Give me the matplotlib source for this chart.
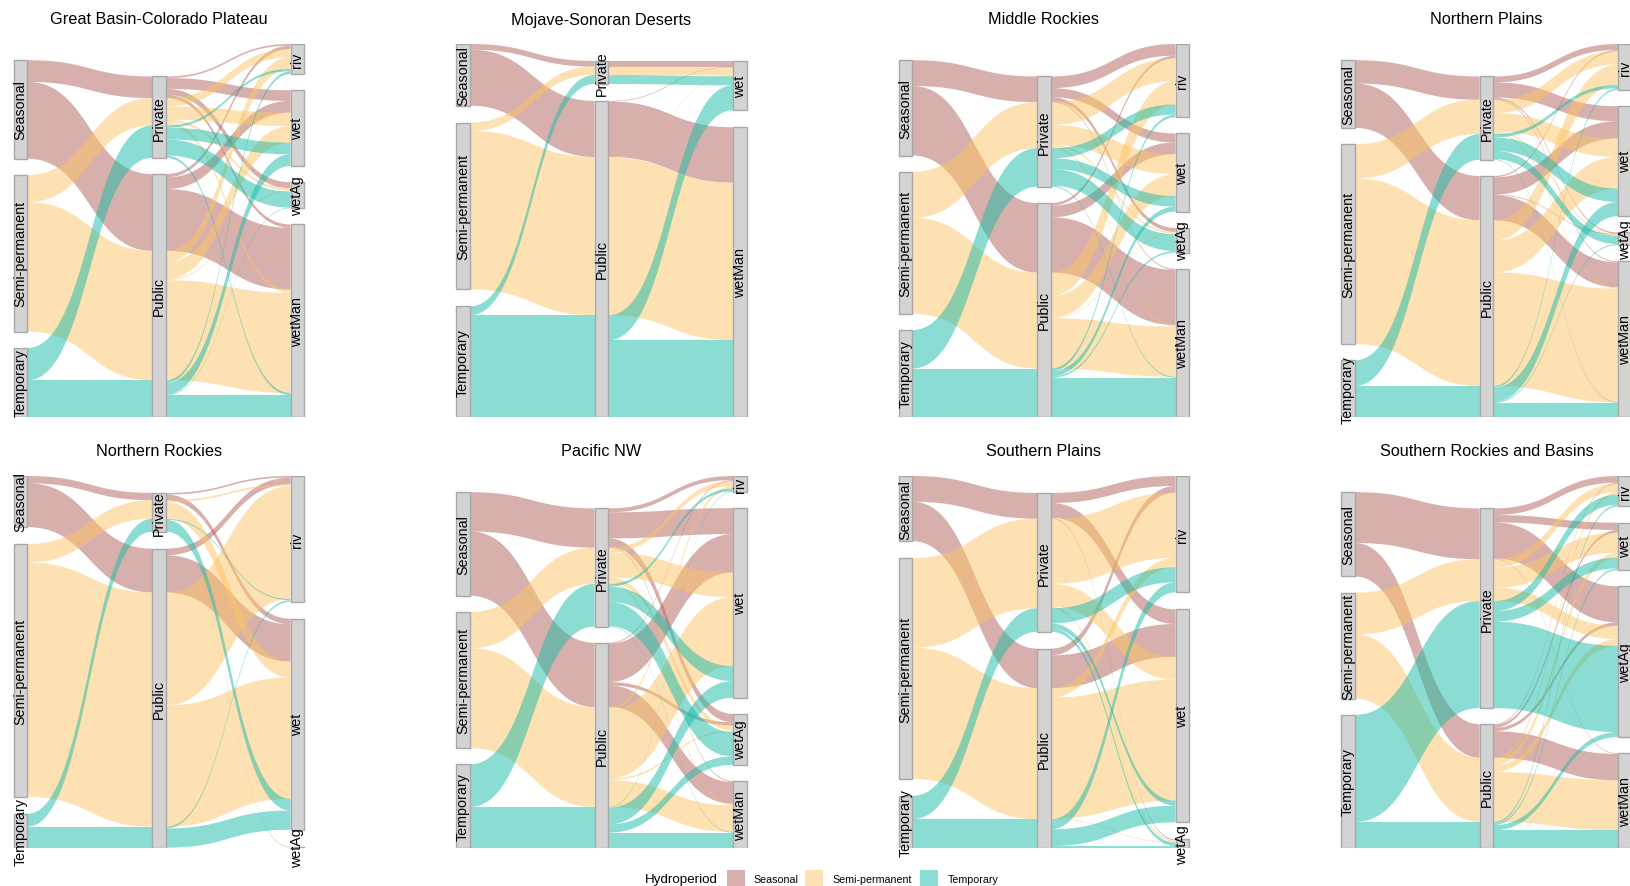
import matplotlib
matplotlib.use("Agg")
import matplotlib.pyplot as plt
import numpy as np
from matplotlib.patches import Polygon, Rectangle

plt.rcParams['font.family'] = ['Liberation Sans', 'DejaVu Sans']

# ---------------- data ----------------
hydroperiods = ["Seasonal", "Semi-permanent", "Temporary"]
ownerships = ["Private", "Public"]
wetland_types = ["riv", "wet", "wetAg", "wetMan"]
regions = ["Great Basin-Colorado Plateau", "Mojave-Sonoran Deserts", "Middle Rockies",
           "Northern Plains", "Northern Rockies", "Pacific NW", "Southern Plains",
           "Southern Rockies and Basins"]

# rows: Seasonal-Private, Seasonal-Public, Semi-Private, Semi-Public, Temp-Private, Temp-Public
# cols: riv, wet, wetAg, wetMan
great_basin = [[5, 32, 18, 10], [10, 35, 0, 185], [25, 40, 7, 10],
               [35, 50, 3, 300], [7, 35, 48, 7], [8, 35, 2, 65]]
mojave = [[0, 17, 0, 0], [0, 2, 0, 166], [0, 25, 0, 0],
          [0, 2, 0, 473], [0, 27, 0, 0], [0, 75, 0, 230]]
middle_rockies = [[35, 27, 12, 3], [8, 35, 0, 165], [68, 60, 5, 5],
                  [70, 65, 2, 150], [30, 32, 50, 3], [8, 15, 5, 117]]
northern_plains = [[18, 45, 4, 3], [4, 52, 2, 75], [40, 55, 4, 4],
                   [61, 95, 0, 341], [10, 40, 25, 2], [5, 43, 3, 42]]
northern_rockies = [[5, 17, 0, 0], [20, 112, 0, 0], [6, 48, 2, 0],
                    [340, 366, 0, 0], [3, 35, 1, 0], [5, 58, 1, 0]]
pacific_nw = [[12, 78, 25, 3], [3, 115, 10, 65], [15, 74, 15, 5],
              [8, 207, 5, 80], [8, 45, 73, 2], [2, 50, 25, 46]]
southern_plains = [[30, 44, 3, 0], [20, 98, 0, 0], [195, 68, 5, 0],
                   [28, 362, 2, 0], [45, 15, 10, 0], [30, 50, 6, 0]]
southern_rockies = [[20, 22, 108, 2], [3, 8, 10, 79], [25, 60, 40, 0],
                    [8, 15, 20, 149], [30, 32, 258, 0], [5, 5, 15, 53]]

panel_data = [great_basin, mojave, middle_rockies, northern_plains,
              northern_rockies, pacific_nw, southern_plains, southern_rockies]

fill_colors = ["#B0605A", "#FCC566", "#18BBA7"]
ALPHA = 0.5

# ---------------- layout ----------------
W, H, DPI = 1631, 887, 100
fig = plt.figure(figsize=(W / DPI, H / DPI), dpi=DPI)

unit = 138.5
col_centers = [159 + 442.5 * k for k in range(4)]
row_top = [45, 477]
row_bot = [418, 849]
title_y = [20, 451]
SEP = 0.05
AXW = 0.1


def px_axes(left, top, width, height):
    return fig.add_axes([left / W, 1 - (top + height) / H, width / W, height / H])


def stack(cats, totals, gap):
    present = [c for c in cats if totals[c] > 0]
    height = sum(totals[c] for c in present) + gap * (len(present) - 1)
    pos = {}
    y = height
    for c in present:
        pos[c] = (y - totals[c], y)
        y -= totals[c] + gap
    return pos, height


def flow(ax, x0, x1, l0, l1, color):
    s = np.linspace(0, 1, 60)
    b = 3 * (1 - s) * s ** 2 + s ** 3
    xm = (x0 + x1) / 2
    xs = (1 - s) ** 3 * x0 + 3 * (1 - s) ** 2 * s * xm + 3 * (1 - s) * s ** 2 * xm + s ** 3 * x1
    ytop = l0[1] + (l1[1] - l0[1]) * (3 * (1 - s) * s ** 2 + s ** 3)
    ybot = l0[0] + (l1[0] - l0[0]) * (3 * (1 - s) * s ** 2 + s ** 3)
    pts = np.vstack([np.column_stack([xs, ytop]), np.column_stack([xs[::-1], ybot[::-1]])])
    ax.add_patch(Polygon(pts, closed=True, facecolor=color, alpha=ALPHA,
                         edgecolor='none', zorder=1))


for p, (name, data) in enumerate(zip(regions, panel_data)):
    r, c = divmod(p, 4)
    cx = col_centers[c]
    ax = px_axes(cx - 1.6 * unit, row_top[r], 3.2 * unit, row_bot[r] - row_top[r])
    ax.axis('off')

    w = {}
    for i, h in enumerate(hydroperiods):
        for j, o in enumerate(ownerships):
            for k, t in enumerate(wetland_types):
                w[(h, o, t)] = data[2 * i + j][k]
    total = sum(w.values())
    gap = SEP * total
    tot_h = {h: sum(w[(h, o, t)] for o in ownerships for t in wetland_types) for h in hydroperiods}
    tot_o = {o: sum(w[(h, o, t)] for h in hydroperiods for t in wetland_types) for o in ownerships}
    tot_t = {t: sum(w[(h, o, t)] for h in hydroperiods for o in ownerships) for t in wetland_types}
    pos_h, hh = stack(hydroperiods, tot_h, gap)
    pos_o, ho = stack(ownerships, tot_o, gap)
    pos_t, ht = stack(wetland_types, tot_t, gap)
    hmax = max(hh, ho, ht)
    ax.set_xlim(0.4, 3.6)
    ax.set_ylim(0, hmax)

    # lodes axis1 right
    l1r = {}
    for h in pos_h:
        y = pos_h[h][1]
        for o in ownerships:
            v = sum(w[(h, o, t)] for t in wetland_types)
            l1r[(h, o)] = (y - v, y)
            y -= v
    l2l = {}
    l2r = {}
    for o in pos_o:
        y = pos_o[o][1]
        for h in hydroperiods:
            v = sum(w[(h, o, t)] for t in wetland_types)
            l2l[(h, o)] = (y - v, y)
            y -= v
        y = pos_o[o][1]
        for h in hydroperiods:
            for t in wetland_types:
                v = w[(h, o, t)]
                l2r[(h, o, t)] = (y - v, y)
                y -= v
    l3l = {}
    for t in pos_t:
        y = pos_t[t][1]
        for h in hydroperiods:
            for o in ownerships:
                v = w[(h, o, t)]
                l3l[(h, o, t)] = (y - v, y)
                y -= v

    for i, h in enumerate(hydroperiods):
        for o in ownerships:
            if sum(w[(h, o, t)] for t in wetland_types) > 0:
                flow(ax, 1 + AXW / 2, 2 - AXW / 2, l1r[(h, o)], l2l[(h, o)], fill_colors[i])
    for i, h in enumerate(hydroperiods):
        for o in ownerships:
            for t in wetland_types:
                if w[(h, o, t)] > 0:
                    flow(ax, 2 + AXW / 2, 3 - AXW / 2, l2r[(h, o, t)], l3l[(h, o, t)], fill_colors[i])

    for x, pos in ((1, pos_h), (2, pos_o), (3, pos_t)):
        for lab, (b, t) in pos.items():
            ax.add_patch(Rectangle((x - AXW / 2, b), AXW, t - b, facecolor="#D3D3D3",
                                   edgecolor="#A8A8A8", lw=1.0, zorder=3))
            ax.text(x, (b + t) / 2, lab, rotation=90, ha='center', va='center',
                    fontsize=10.3, color='black', zorder=4, clip_on=False)

    fig.text(cx / W, 1 - title_y[r] / H, name, ha='center', va='center',
             fontsize=11.7, color='black')

# ---------------- legend ----------------
fig.text(645 / W, 1 - 880 / H, "Hydroperiod", ha='left', va='center', fontsize=9.6)
key_x = [727, 805, 920]
lab_x = [753, 832, 948]
for i, h in enumerate(hydroperiods):
    fig.patches.append(Rectangle((key_x[i] / W, 1 - 889 / H), 18 / W, 18 / H,
                                 transform=fig.transFigure, facecolor=fill_colors[i],
                                 alpha=ALPHA, edgecolor='none'))
    fig.text(lab_x[i] / W, 1 - 880 / H, h, ha='left', va='center', fontsize=7.7)

fig.savefig("out.png", dpi=DPI)
